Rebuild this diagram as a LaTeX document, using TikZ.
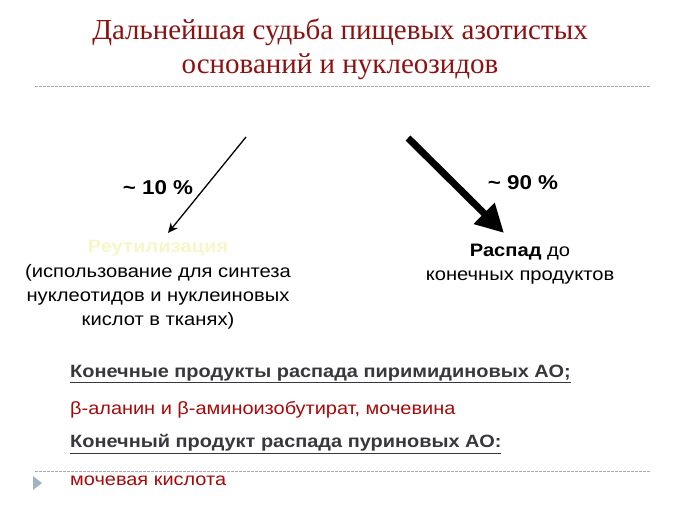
\documentclass[tikz,border=0pt]{standalone}
\usepackage{fontspec}
\usepackage{graphicx}
\setmainfont{Liberation Serif}
\newfontfamily\arialf{Liberation Sans}
\usetikzlibrary{arrows.meta}
\definecolor{titlered}{RGB}{140,18,18}
\definecolor{textred}{RGB}{165,10,10}
\definecolor{headgray}{RGB}{55,55,60}
\definecolor{paleyellow}{RGB}{246,246,200}
\definecolor{dashgray}{RGB}{170,170,170}
\definecolor{bulletblue}{RGB}{160,178,196}
\newcommand{\widetxt}[1]{\scalebox{1.12}[1]{#1}}
\newcommand{\widelines}[1]{\scalebox{1.12}[1]{\begin{tabular}{@{}c@{}}#1\end{tabular}}}
\tikzset{
  titletext/.style={font=\fontsize{29}{33}\selectfont, text=titlered, inner sep=0pt},
  pcttext/.style={font=\arialf\bfseries\fontsize{20}{24}\selectfont, inner sep=0pt},
  bodytext/.style={font=\arialf\fontsize{18}{24}\selectfont, inner sep=0pt},
  listtext/.style={font=\arialf\fontsize{17.8}{22}\selectfont, anchor=west, inner sep=0pt},
  sepline/.style={draw=dashgray, dash pattern=on 2.5pt off 1.5pt, line width=0.7pt},
}
\begin{document}
\begin{tikzpicture}[x=1pt,y=-1pt]
\useasboundingbox (0,0) rectangle (680,510);
% title
\node[titletext] (t1) at (340,32) {Дальнейшая судьба пищевых азотистых};
\node[titletext] (t2) at (340,67) {оснований и нуклеозидов};
\coordinate (s1a) at (35,86);
\coordinate (s1b) at (650,86);
\draw[sepline] (s1a) -- (s1b);
% left branch
\node[pcttext] (p10) at (158,188) {\widetxt{\textasciitilde\ 10 \%}};
\coordinate (la) at (246,137);
\coordinate (lb) at (168,233);
\draw[line width=1.3pt, -{Stealth[length=10pt,width=9pt]}] (la) -- (lb);
\node[font=\arialf\bfseries\fontsize{18}{24}\selectfont, text=paleyellow, inner sep=0pt] (reu) at (158,248) {\widetxt{Реутилизация}};
\node[bodytext, anchor=north] (reud) at (158,261) {\widelines{(использование для синтеза\\нуклеотидов и нуклеиновых\\кислот в тканях)}};
% right branch
\coordinate (ra) at (408,138);
\coordinate (rb) at (504,233);
\draw[line width=7pt, -{Triangle[length=28pt,width=28pt]}] (ra) -- (rb);
\node[pcttext] (p90) at (523,183) {\widetxt{\textasciitilde\ 90 \%}};
\node[bodytext, anchor=north] (rasp) at (520,240) {\widelines{\textbf{Распад} до\\конечных продуктов}};
% list
\node[listtext, text=headgray] (h1) at (70,374) {\widetxt{\textbf{\underline{Конечные продукты распада пиримидиновых АО;}}}};
\node[listtext, text=textred] (l1) at (70,410) {\widetxt{β-аланин и β-аминоизобутират, мочевина}};
\node[listtext, text=headgray] (h2) at (70,444) {\widetxt{\textbf{\underline{Конечный продукт распада пуриновых АО:}}}};
\coordinate (s2a) at (35,471);
\coordinate (s2b) at (650,471);
\draw[sepline] (s2a) -- (s2b);
\node[listtext, text=textred] (l2) at (70,481) {\widetxt{мочевая кислота}};
\fill[bulletblue] (33,476) -- (42,483) -- (33,490) -- cycle;
\end{tikzpicture}
\end{document}
